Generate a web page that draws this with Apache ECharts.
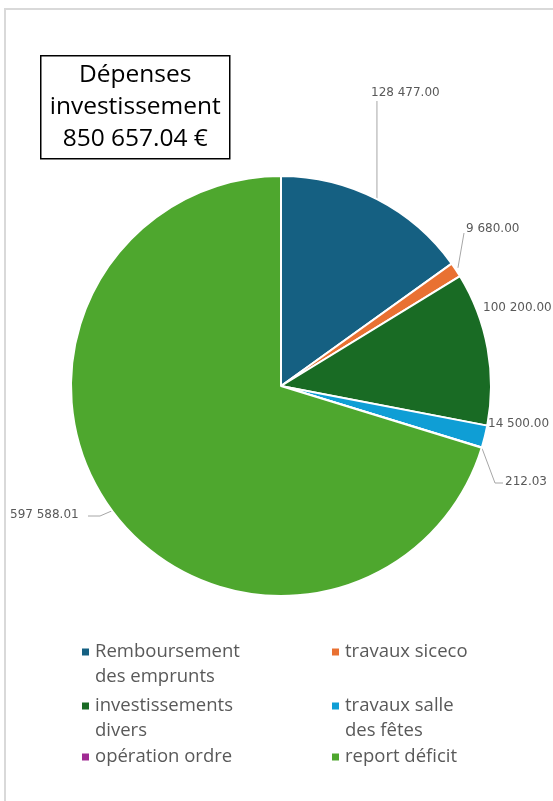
<!DOCTYPE html>
<html><head><meta charset="utf-8">
<script src="https://cdn.jsdelivr.net/npm/echarts@6/dist/echarts.min.js"></script>
<style>
html,body{margin:0;padding:0;background:#fff;}
#frame{position:absolute;left:4px;top:8px;width:560px;height:800px;border-left:2px solid #d9d9d9;border-top:2px solid #d9d9d9;}
#chart{position:absolute;left:0;top:0;width:553px;height:801px;}
</style></head>
<body>
<div id="frame"></div>
<div id="chart"></div>
<script>
const categories = ["Remboursement des emprunts","travaux siceco","investissements divers","travaux salle des fêtes","opération ordre","report déficit"];
const legendLabels = ["Remboursement\ndes emprunts","travaux siceco","investissements\ndivers","travaux salle\ndes fêtes","opération ordre","report déficit"];
const values = [128477.00, 9680.00, 100200.00, 14500.00, 212.03, 597588.01];
const colors = ["#156082","#E97132","#196B24","#0F9ED5","#A02B93","#4EA72E"];
const titleLines = ["Dépenses","investissement","850 657.04 €"];

const CX = 281, CY = 386, R = 210;
const total = values.reduce((a,b)=>a+b,0);
function edgePoint(i){
  let before = 0; for (let k=0;k<i;k++) before += values[k];
  const ang = (before + values[i]/2)/total*2*Math.PI;
  return [CX + R*Math.sin(ang), CY - R*Math.cos(ang)];
}
function fmt(v){
  const s = v.toFixed(2); const [a,b] = s.split('.');
  return a.replace(/\B(?=(\d{3})+(?!\d))/g,' ') + '.' + b;
}
const labelPlace = [
  {x:371,y:93, line:(e)=>[e,[e[0],101],[e[0],101]]},
  {x:466,y:229, line:(e)=>[[e[0]+2,e[1]-2],[464,233],[464,233]]},
  {x:483,y:308, line:null},
  {x:488,y:424, line:null},
  {x:505,y:482, line:(e)=>[e,[495,483],[503,483]]},
  {x:10,y:515, line:(e)=>[e,[100,516],[88,516]]}
];

const chart = echarts.init(document.getElementById('chart'), null, {renderer:'canvas'});
const legendPos = [
  {left:80, top:652},
  {left:330, top:652},
  {left:80, top:706},
  {left:330, top:706},
  {left:80, top:757},
  {left:330, top:757}
];
const LH = 25;
const legends = categories.map((c,i)=>{
  const two = legendLabels[i].indexOf('\n') >= 0;
  return {
    data:[c],
    left: legendPos[i].left,
    top: legendPos[i].top - (two ? 1.5*LH : 0.5*LH),
    padding:0,
    itemWidth:9, itemHeight:9, itemGap:8,
    icon:'rect',
    selectedMode:false,
    formatter: ()=> two ? '\n' + legendLabels[i] : legendLabels[i],
    textStyle:{fontFamily:'Open Sans', fontSize:18.5, color:'#595959', lineHeight:LH}
  };
});

chart.setOption({
  animation:false,
  color: colors,
  legend: legends,
  graphic:[{
    type:'group', left:40, top:55,
    children:[
      {type:'rect', shape:{x:0,y:0,width:189,height:103}, style:{fill:'#fff',stroke:'#000',lineWidth:1.5}},
      {type:'text', x:94.5, y:51.5, style:{text:titleLines.join('\n'), font:'24.5px "Open Sans"', fill:'#000', align:'center', verticalAlign:'middle', lineHeight:32}}
    ]
  }],
  series:[{
    type:'pie',
    center:[CX,CY], radius:R,
    startAngle:90, clockwise:true,
    avoidLabelOverlap:false,
    itemStyle:{borderColor:'#fff', borderWidth:2},
    label:{show:true, formatter:(p)=>fmt(p.value), fontFamily:'DejaVu Sans', fontSize:12, color:'#595959'},
    labelLine:{show:true, lineStyle:{color:'#a6a6a6', width:1}},
    labelLayout:(p)=>{
      const i = p.dataIndex; const pl = labelPlace[i];
      const o = {x:pl.x, y:pl.y, align:'left', verticalAlign:'middle'};
      if (pl.line) o.labelLinePoints = pl.line(edgePoint(i));
      return o;
    },
    data: categories.map((c,i)=>({name:c, value:values[i],
      labelLine:{show: labelPlace[i].line!==null}}))
  }]
});
</script>
</body></html>
